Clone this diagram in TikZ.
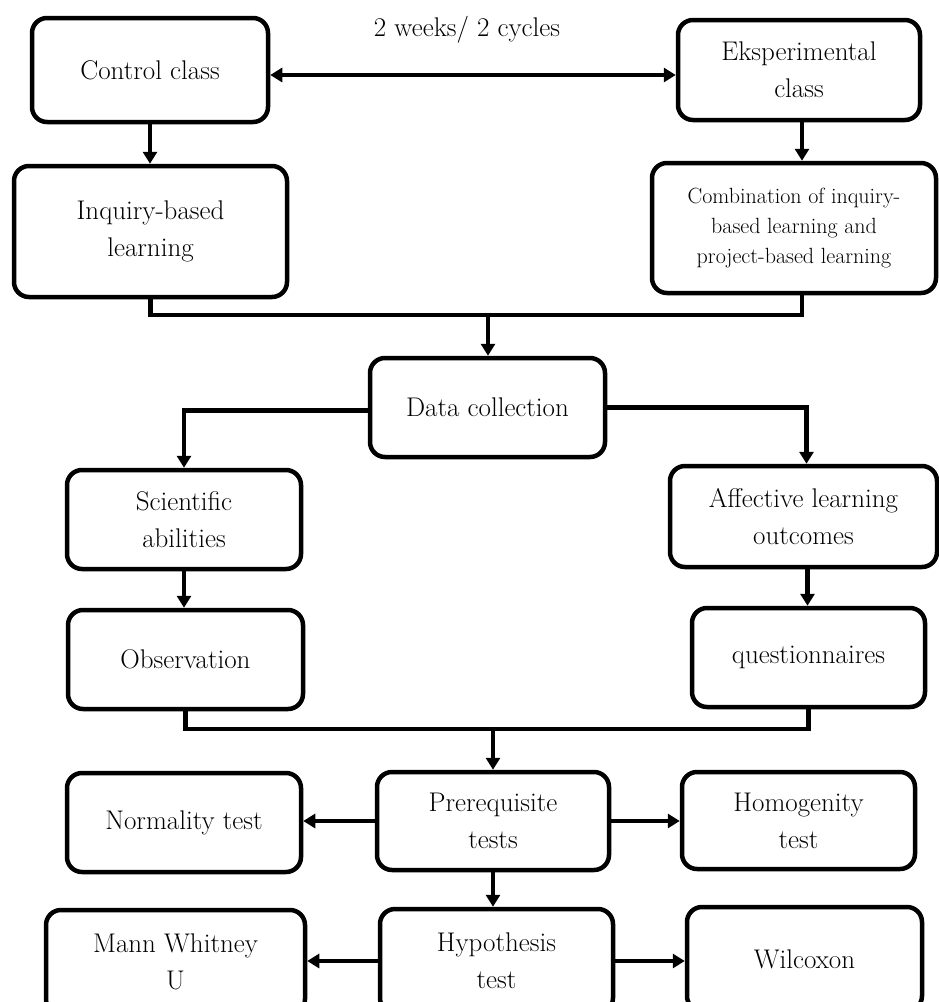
\documentclass[tikz,border=0pt]{standalone}
\usetikzlibrary{arrows.meta,positioning,calc}
\begin{document}
\begin{tikzpicture}[x=1pt,y=-1pt,
  box/.style={draw=black,line width=4.5pt,rounded corners=15pt,align=center,
    inner sep=2pt,font=\fontsize{27}{37}\selectfont},
  arr/.style={line width=4.5pt,-{Triangle[length=12pt,width=14pt]}},
  conn/.style={line width=4.5pt},
  dbl/.style={line width=4.5pt,{Triangle[length=12pt,width=14pt]}-{Triangle[length=12pt,width=14pt]}}]
\useasboundingbox (0,0) rectangle (939,1002);
\clip (0,0) rectangle (939,1002);
% boxes
\node[box,minimum width=236pt,minimum height=104pt] (ctrl) at (150,70) {Control class};
\node[box,minimum width=242pt,minimum height=100pt] (exp) at (799,70) {Eksperimental\\class};
\node[box,minimum width=273pt,minimum height=131pt] (inq) at (150.5,231.5) {Inquiry-based\\learning};
\node[box,minimum width=284pt,minimum height=130pt,font=\fontsize{22}{30}\selectfont] (comb) at (794,228) {Combination of inquiry-\\based learning and\\project-based learning};
\node[box,minimum width=235pt,minimum height=99pt] (data) at (487.5,407.5) {Data collection};
\node[box,minimum width=234pt,minimum height=99pt] (sci) at (184,519.5) {Scientific\\abilities};
\node[box,minimum width=267pt,minimum height=101pt] (aff) at (803.5,516.5) {Affective learning\\outcomes};
\node[box,minimum width=235pt,minimum height=99pt] (obs) at (185.5,659.5) {Observation};
\node[box,minimum width=233pt,minimum height=99pt] (quest) at (808.5,657.5) {questionnaires};
\node[box,minimum width=232pt,minimum height=98pt] (pre) at (493,821) {Prerequisite\\tests};
\node[box,minimum width=234pt,minimum height=99pt] (norm) at (184,822.5) {Normality test};
\node[box,minimum width=233pt,minimum height=97pt] (hom) at (798.5,820.5) {Homogenity\\test};
\node[box,minimum width=233pt,minimum height=104pt] (hyp) at (496.5,961) {Hypothesis\\test};
\node[box,minimum width=259pt,minimum height=104pt] (mann) at (175.5,962) {Mann Whitney\\U};
\node[box,minimum width=235pt,minimum height=104pt] (wil) at (804.5,959) {Wilcoxon};
% label
\node[font=\fontsize{27}{37}\selectfont] (lbl) at (467,30) {2 weeks/ 2 cycles};
% coordinates
\coordinate (j1) at (488,315);
\coordinate (j2) at (493,729);
% connectors
\draw[dbl] ([yshift=-5pt]ctrl.east) -- ([yshift=-5pt]exp.west);
\draw[arr] (ctrl.south) -- (ctrl.south |- inq.north);
\draw[arr] ([xshift=3pt]exp.south) -- ([xshift=3pt]exp.south |- comb.north);
\draw[conn] (inq.south) |- (j1);
\draw[conn] ([xshift=8pt]comb.south) |- (j1);
\draw[arr] ([yshift=2pt]j1) -- (j1 |- data.north);
\draw[arr] ([yshift=-3pt]data.west) -| (sci.north);
\draw[arr] (data.east) -| ([xshift=3pt]aff.north);
\draw[arr] (sci.south) -- (obs.north -| sci.south);
\draw[arr] ([xshift=4pt]aff.south) -- ([xshift=4pt]aff.south |- quest.north);
\draw[conn] (obs.south) |- (j2);
\draw[conn] (quest.south) |- (j2);
\draw[arr] ([yshift=2pt]j2) -- (j2 |- pre.north);
\draw[arr] (pre.west) -- (pre.west -| norm.east);
\draw[arr] (pre.east) -- (pre.east -| hom.west);
\draw[arr] (pre.south) -- (pre.south |- hyp.north);
\draw[arr] (hyp.west) -- (hyp.west -| mann.east);
\draw[arr] (hyp.east) -- (hyp.east -| wil.west);
\end{tikzpicture}
\end{document}
